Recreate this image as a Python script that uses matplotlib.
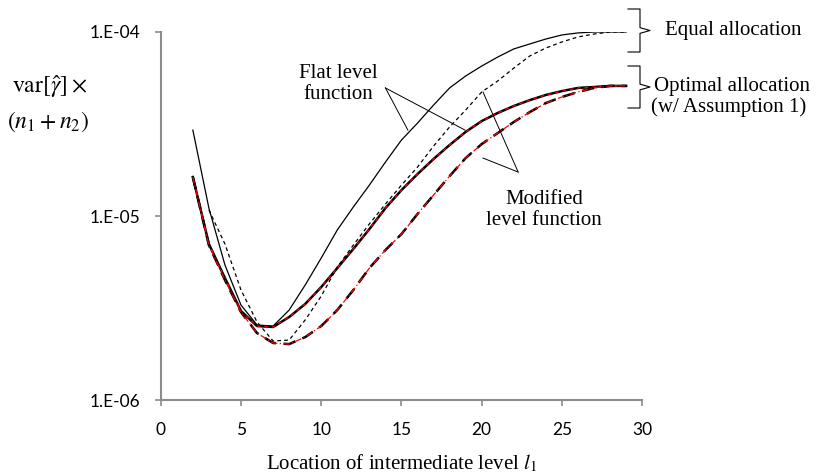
import matplotlib
matplotlib.use('Agg')
import matplotlib.pyplot as plt
import numpy as np

plt.rcParams['mathtext.fontset'] = 'stix'

# значения кривых (log10 дисперсии)
x_opt = list(range(2, 30))
flat_opt = [-4.788, -5.152, -5.337, -5.516, -5.598, -5.603, -5.549, -5.478, -5.386, -5.283,
            -5.179, -5.071, -4.957, -4.859, -4.772, -4.690, -4.614, -4.543, -4.484, -4.440,
            -4.402, -4.370, -4.342, -4.321, -4.304, -4.299, -4.293, -4.293]
mod_opt = [-4.788, -5.158, -5.348, -5.522, -5.636, -5.690, -5.696, -5.658, -5.598, -5.511,
           -5.402, -5.283, -5.185, -5.098, -4.989, -4.886, -4.783, -4.685, -4.609, -4.549,
           -4.489, -4.435, -4.386, -4.353, -4.326, -4.304, -4.293, -4.293]

x_flat_eq = list(range(2, 30))
flat_eq = [-4.533, -4.957, -5.266, -5.484, -5.592, -5.598, -5.511, -5.375, -5.228, -5.076,
           -4.951, -4.832, -4.707, -4.587, -4.495, -4.397, -4.304, -4.239, -4.185, -4.136,
           -4.092, -4.065, -4.038, -4.016, -4.005, -4.000, -4.000, -4.000]
x_mod_eq = list(range(3, 30))
mod_eq = [-4.967, -5.152, -5.402, -5.576, -5.679, -5.674, -5.565, -5.435, -5.277, -5.158,
          -5.043, -4.935, -4.832, -4.734, -4.620, -4.516, -4.424, -4.326, -4.266, -4.196,
          -4.130, -4.087, -4.054, -4.027, -4.011, -4.000, -4.000]

y_ticks = [1e-6, 1e-5, 1e-4]
y_labels = ['1.E-06', '1.E-05', '1.E-04']
x_ticks = [0, 5, 10, 15, 20, 25, 30]

fig = plt.figure(figsize=(8.16, 4.74), dpi=100)
ax = fig.add_axes([0.197, 0.156, 0.59, 0.7765])

def pw(v):
    return 10 ** np.array(v)

# равное распределение
ax.plot(x_flat_eq, pw(flat_eq), color='black', lw=0.9)
ax.plot(x_mod_eq, pw(mod_eq), color='black', lw=0.9, dashes=(3, 2.5))
# оптимальное распределение
ax.plot(x_opt, pw(flat_opt), color='black', lw=1.8)
ax.plot(x_opt, pw(flat_opt), color='red', lw=0.9, dashes=(3, 3))
ax.plot(x_opt, pw(mod_opt), color='black', lw=1.8, dashes=(5, 3))
ax.plot(x_opt, pw(mod_opt), color='red', lw=0.9, dashes=(5, 2, 1, 2))

ax.set_yscale('log')
ax.set_xlim(0, 30)
ax.set_ylim(1e-6, 1e-4)
ax.yaxis.set_major_locator(matplotlib.ticker.FixedLocator(y_ticks))
ax.yaxis.set_minor_locator(matplotlib.ticker.NullLocator())
ax.set_yticks(y_ticks)
ax.set_yticklabels(y_labels)
ax.set_xticks(x_ticks)

for s in ['top', 'right']:
    ax.spines[s].set_visible(False)
for s in ['left', 'bottom']:
    ax.spines[s].set_color('#8c8c8c')
    ax.spines[s].set_linewidth(1.5)
ax.tick_params(colors='#8c8c8c', width=1.2, length=4.5, labelcolor='black',
               labelsize=12.5)
ax.tick_params(axis='y', pad=10)
ax.tick_params(axis='x', pad=11)
for lab in ax.get_xticklabels() + ax.get_yticklabels():
    lab.set_family('Lato')

serif = 'Liberation Serif'
ax.set_xlabel(r'Location of intermediate level $l_1$', fontsize=15,
              family=serif, labelpad=11)
fig.text(87 / 816, 1 - 87 / 474, r'$\mathrm{var}[\hat{\gamma}]\times$', fontsize=17,
         va='center', ha='right')
fig.text(89 / 816, 1 - 122 / 474, r'$(n_1+n_2)$', fontsize=17, va='center', ha='right')

# подписи с указателями
ax.text(11.05, 10 ** -4.283, 'Flat level\nfunction', ha='center', va='center',
        fontsize=15, family=serif, linespacing=1.2)
ax.plot([14.0, 15.4], [10 ** -4.304, 10 ** -4.533], color='black', lw=0.7)
ax.plot([14.0, 18.96], [10 ** -4.304, 10 ** -4.533], color='black', lw=0.7)

ax.text(23.88, 10 ** -4.967, 'Modified\nlevel function', ha='center', va='center',
        fontsize=15, family=serif, linespacing=1.2)
ax.plot([22.27, 20.08], [10 ** -4.761, 10 ** -4.326], color='black', lw=0.7)
ax.plot([22.27, 20.08], [10 ** -4.761, 10 ** -4.685], color='black', lw=0.7)


# фигурные скобки справа
def brace(y_top, y_bot):
    x0, x1 = 628 / 816, 640 / 816
    xt = 650 / 816
    yt, yb = 1 - y_top / 474, 1 - y_bot / 474
    ym = (yt + yb) / 2
    xs = [x0, x1, x1, xt, x1, x1, x0]
    ys = [yt, yt, ym + 0.006, ym, ym - 0.006, yb, yb]
    fig.add_artist(plt.Line2D(xs, ys, color='black', lw=0.8))


brace(9, 52)
brace(66, 108)
fig.text(665 / 816, 1 - 30 / 474, 'Equal allocation', fontsize=15, family=serif, va='center')
fig.text(654 / 816, 1 - 86 / 474, 'Optimal allocation', fontsize=15, family=serif, va='center')
fig.text(651 / 816, 1 - 107 / 474, '(w/ Assumption 1)', fontsize=15, family=serif, va='center')

fig.savefig('out.png', dpi=100)
